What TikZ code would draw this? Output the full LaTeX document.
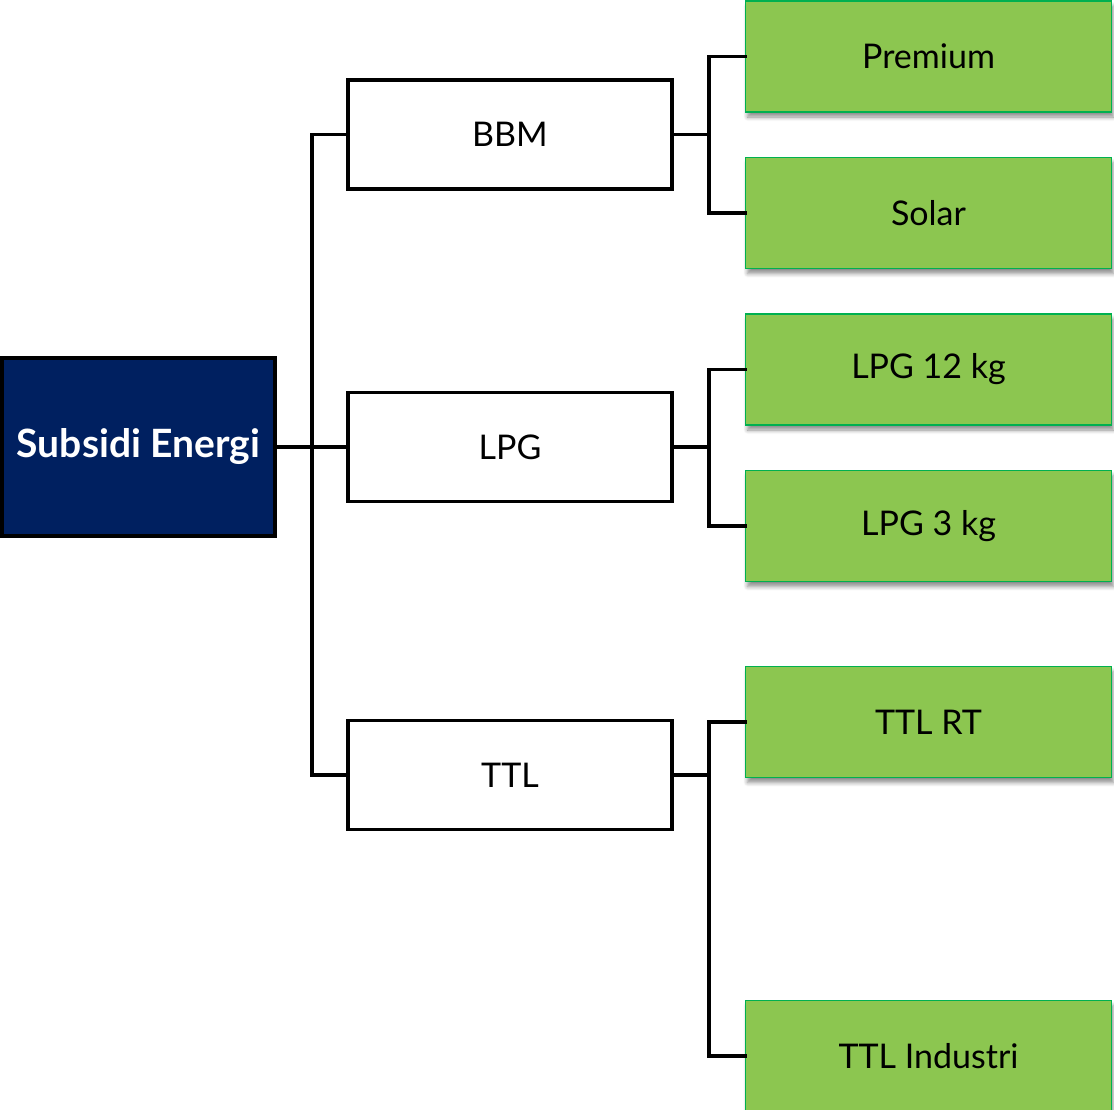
\documentclass[tikz,border=0pt]{standalone}
\usepackage{fontspec}
\setmainfont{Lato}
\usetikzlibrary{shadows.blur}
\definecolor{navy}{HTML}{002060}
\definecolor{leaf}{HTML}{8CC650}
\definecolor{leafedge}{HTML}{00B050}
\begin{document}
\begin{tikzpicture}[x=1pt,y=-1pt,
  rootbox/.style={draw=black,line width=3.5pt,fill=navy,text=white,minimum width=273pt,minimum height=178pt,inner sep=0pt,font=\fontsize{39}{44}\selectfont\bfseries},
  midbox/.style={draw=black,line width=3.5pt,fill=white,minimum width=324pt,minimum height=109pt,inner sep=0pt,font=\fontsize{34}{40}\selectfont},
  leafbox/.style={draw=leafedge,line width=1.5pt,fill=leaf,minimum width=366pt,minimum height=111pt,inner sep=0pt,font=\fontsize{34}{40}\selectfont,
    blur shadow={shadow xshift=2pt,shadow yshift=-5pt,shadow blur steps=6,shadow blur radius=4pt,shadow opacity=45}},
  wire/.style={line width=3.5pt,line cap=rect}]
\useasboundingbox (0,0) rectangle (1114,1109);
\node[rootbox] (root) at (138.5,447) {Subsidi Energi};
\node[midbox] (bbm) at (510,134.5) {BBM};
\node[midbox] (lpg) at (510,447) {LPG};
\node[midbox] (ttl) at (510,775) {TTL};
\node[leafbox] (prem) at (928.5,56.5) {Premium};
\node[leafbox] (sol) at (928.5,213) {Solar};
\node[leafbox] (l12) at (928.5,369.5) {LPG 12 kg};
\node[leafbox] (l3) at (928.5,526) {LPG 3 kg};
\node[leafbox] (rt) at (928.5,722) {TTL RT};
\node[leafbox] (ind) at (928.5,1056) {TTL Industri};
\coordinate (t0) at (312,0);
\coordinate (t1) at (709,0);
\draw[wire] (root.east) -- (lpg.west);
\draw[wire] (bbm.west) -- (bbm.west -| t0) -- (ttl.west -| t0) -- (ttl.west);
\draw[wire] (bbm.east) -- (bbm.east -| t1);
\draw[wire] (prem.west) -- (prem.west -| t1) -- (sol.west -| t1) -- (sol.west);
\draw[wire] (lpg.east) -- (lpg.east -| t1);
\draw[wire] (l12.west) -- (l12.west -| t1) -- (l3.west -| t1) -- (l3.west);
\draw[wire] (ttl.east) -- (ttl.east -| t1);
\draw[wire] (rt.west) -- (rt.west -| t1) -- (ind.west -| t1) -- (ind.west);
\end{tikzpicture}
\end{document}
